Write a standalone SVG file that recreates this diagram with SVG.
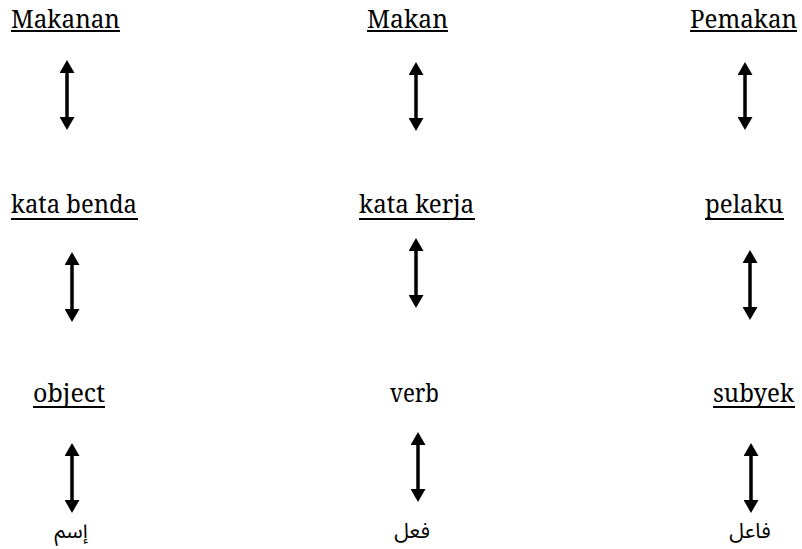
<svg xmlns="http://www.w3.org/2000/svg" width="802" height="549" viewBox="0 0 802 549">
  <style>
    .t { font-family: 'Noto Serif', 'DejaVu Serif', serif; font-size: 25px; fill: #000; }
    .ar { font-family: 'Noto Sans Arabic', 'Noto Naskh Arabic', 'DejaVu Sans', sans-serif; font-size: 21px; fill: #000; }
    .ul { stroke: #000; stroke-width: 2; }
    .arrow { stroke: #000; stroke-width: 3.5; marker-start: url(#head); marker-end: url(#head); }
  </style>
  <defs>
    <marker id="head" viewBox="0 0 13 15" markerWidth="13" markerHeight="15" refX="3" refY="7.5" orient="auto-start-reverse" markerUnits="userSpaceOnUse">
      <path d="M0,0 L13,7.5 L0,15 Z" fill="#000"/>
    </marker>
  </defs>
  <rect width="802" height="549" fill="#fff"/>

  <g id="makanan"><text class="t" x="11" y="28" textLength="109" lengthAdjust="spacingAndGlyphs">Makanan</text><line class="ul" x1="11" y1="31" x2="120" y2="31"/></g>
  <g id="makan"><text class="t" x="367" y="28" textLength="81" lengthAdjust="spacingAndGlyphs">Makan</text><line class="ul" x1="367" y1="31" x2="448" y2="31"/></g>
  <g id="pemakan"><text class="t" x="690" y="28" textLength="107" lengthAdjust="spacingAndGlyphs">Pemakan</text><line class="ul" x1="690" y1="31" x2="797" y2="31"/></g>

  <g id="kata-benda"><text class="t" x="11" y="213" textLength="126" lengthAdjust="spacingAndGlyphs">kata benda</text><line class="ul" x1="11" y1="219" x2="138" y2="219"/></g>
  <g id="kata-kerja"><text class="t" x="359" y="213" textLength="115" lengthAdjust="spacingAndGlyphs">kata kerja</text><line class="ul" x1="359" y1="219" x2="475" y2="219"/></g>
  <g id="pelaku"><text class="t" x="705" y="213" textLength="78" lengthAdjust="spacingAndGlyphs">pelaku</text><line class="ul" x1="705" y1="219" x2="784" y2="219"/></g>

  <g id="object"><text class="t" x="33" y="402" textLength="72" lengthAdjust="spacingAndGlyphs">object</text><line class="ul" x1="33" y1="407" x2="105" y2="407"/></g>
  <g id="verb"><text class="t" x="390" y="402" textLength="49" lengthAdjust="spacingAndGlyphs">verb</text></g>
  <g id="subyek"><text class="t" x="713" y="402" textLength="81" lengthAdjust="spacingAndGlyphs">subyek</text><line class="ul" x1="713" y1="407" x2="795" y2="407"/></g>

  <g id="ism"><text class="ar" x="71" y="538" text-anchor="middle" direction="rtl">إسم</text></g>
  <g id="fiil"><text class="ar" x="412" y="538" text-anchor="middle" direction="rtl">فعل</text></g>
  <g id="fail"><text class="ar" x="750" y="538" text-anchor="middle" direction="rtl">فاعل</text></g>

  <g id="connectors">
    <line class="arrow" x1="67" y1="70" x2="67" y2="120"/>
    <line class="arrow" x1="416" y1="72" x2="416" y2="121"/>
    <line class="arrow" x1="745" y1="72" x2="745" y2="120"/>
    <line class="arrow" x1="72" y1="262" x2="72" y2="312"/>
    <line class="arrow" x1="416" y1="248" x2="416" y2="298"/>
    <line class="arrow" x1="750" y1="260" x2="750" y2="310"/>
    <line class="arrow" x1="72" y1="453" x2="72" y2="503"/>
    <line class="arrow" x1="418" y1="442" x2="418" y2="492"/>
    <line class="arrow" x1="751" y1="453" x2="751" y2="503"/>
  </g>
</svg>
